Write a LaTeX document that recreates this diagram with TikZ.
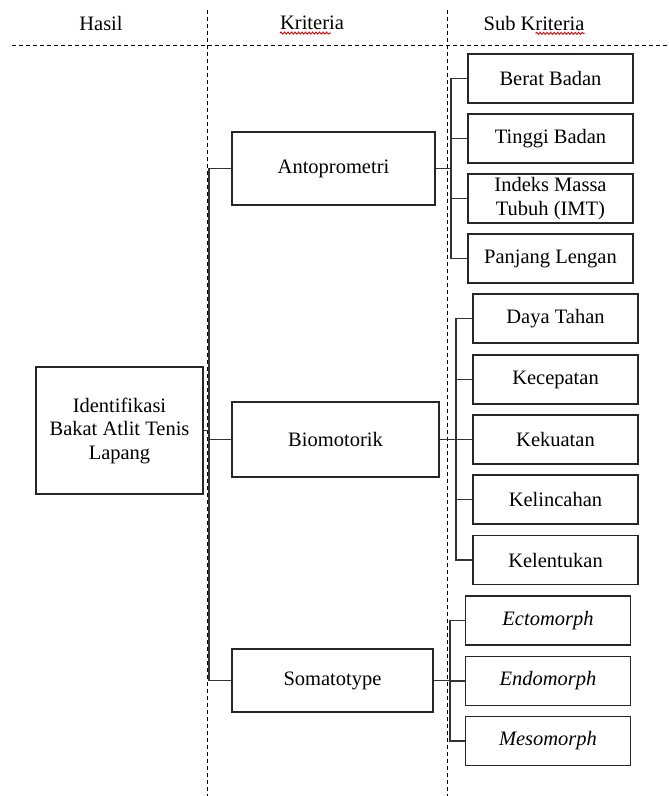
\documentclass[tikz,border=0pt]{standalone}
\usepackage{fontspec}
\setmainfont{Liberation Serif}
\usetikzlibrary{decorations.pathmorphing}
\begin{document}
\begin{tikzpicture}[x=1pt,y=-1pt,
  box/.style={draw=black!85,line width=1.1pt,inner sep=0pt,align=center,
    font=\fontsize{20.5}{23.5}\selectfont},
  subbox/.style={box,minimum width=165pt,minimum height=49pt},
  link/.style={draw=black!80,line width=1.1pt},
  sep/.style={draw=black,line width=1pt,dash pattern=on 4pt off 3pt},
  hdr/.style={font=\fontsize{20.5}{23.5}\selectfont,inner sep=0pt},
  squig/.style={draw=red!85!black,line width=0.9pt,decorate,
    decoration={snake,amplitude=1pt,segment length=3.5pt}}]
\useasboundingbox (0,0) rectangle (669,796);
% header
\node[hdr] (h1) at (101,23) {Hasil};
\node[hdr] (h2) at (312,23) {Kriteria};
\node[hdr] (h3) at (534,23) {Sub Kriteria};
\draw[squig] (h2.south west)++(0,3) -- ++(51,0);
\draw[squig] ([xshift=-49pt]h3.south east)++(0,3) -- ++(49,0);
% separators
\coordinate (v1t) at (207,10); \coordinate (v1b) at (207,796);
\coordinate (v2t) at (447,10); \coordinate (v2b) at (447,796);
\coordinate (hl) at (12,45); \coordinate (hr) at (669,45);
\draw[sep] (v1t) -- (v1b);
\draw[sep] (v2t) -- (v2b);
\draw[sep] (hl) -- (hr);
% main boxes
\node[box,minimum width=167pt,minimum height=127pt] (id) at (119.5,430.5)
  {Identifikasi\\Bakat Atlit Tenis\\Lapang};
\node[box,minimum width=203pt,minimum height=73pt] (anto) at (333.5,168.5) {Antoprometri};
\node[box,minimum width=207pt,minimum height=75pt] (bio) at (335.5,439.5) {Biomotorik};
\node[box,minimum width=201pt,minimum height=63pt] (soma) at (332.5,680.5) {Somatotype};
% antoprometri subs
\node[subbox] (berat) at (550.5,78.5) {Berat Badan};
\node[subbox] (tinggi) at (550.5,138.5) {Tinggi Badan};
\node[subbox] (imt) at (550.5,198.5) {Indeks Massa\\Tubuh (IMT)};
\node[subbox] (panjang) at (550.5,258.5) {Panjang Lengan};
% biomotorik subs
\node[subbox] (daya) at (555.5,318.5) {Daya Tahan};
\node[subbox] (cepat) at (555.5,379.5) {Kecepatan};
\node[subbox] (kuat) at (555.5,439.5) {Kekuatan};
\node[subbox] (lincah) at (555.5,499.5) {Kelincahan};
\node[subbox] (lentuk) at (555.5,560) {Kelentukan};
% somatotype subs
\node[subbox] (ecto) at (548,620.5) {\itshape Ectomorph};
\node[subbox] (endo) at (548,681) {\itshape Endomorph};
\node[subbox] (meso) at (548,741) {\itshape Mesomorph};
% buses
\coordinate (b0) at (209,0);
\coordinate (b1) at (451,0);
\coordinate (b2) at (456,0);
\coordinate (b3) at (450,0);
% main bus
\draw[link] (anto.west) -- (anto.west -| b0) -- (soma.west -| b0) -- (soma.west);
\draw[link] (bio.west) -- (bio.west -| b0);
\draw[link] (id.east) -- (id.east -| b0);
% antoprometri bus
\draw[link] (anto.east) -- (anto.east -| b1);
\draw[link] (berat.west) -- (berat.west -| b1) -- (panjang.west -| b1) -- (panjang.west);
\draw[link] (tinggi.west) -- (tinggi.west -| b1);
\draw[link] (imt.west) -- (imt.west -| b1);
% biomotorik bus
\draw[link] (bio.east) -- (bio.east -| b2);
\draw[link] (daya.west) -- (daya.west -| b2) -- (lentuk.west -| b2) -- (lentuk.west);
\draw[link] (cepat.west) -- (cepat.west -| b2);
\draw[link] (kuat.west) -- (kuat.west -| b2);
\draw[link] (lincah.west) -- (lincah.west -| b2);
% somatotype bus
\draw[link] (soma.east) -- (soma.east -| b3);
\draw[link] (ecto.west) -- (ecto.west -| b3) -- (meso.west -| b3) -- (meso.west);
\draw[link] (endo.west) -- (endo.west -| b3);
\end{tikzpicture}
\end{document}
